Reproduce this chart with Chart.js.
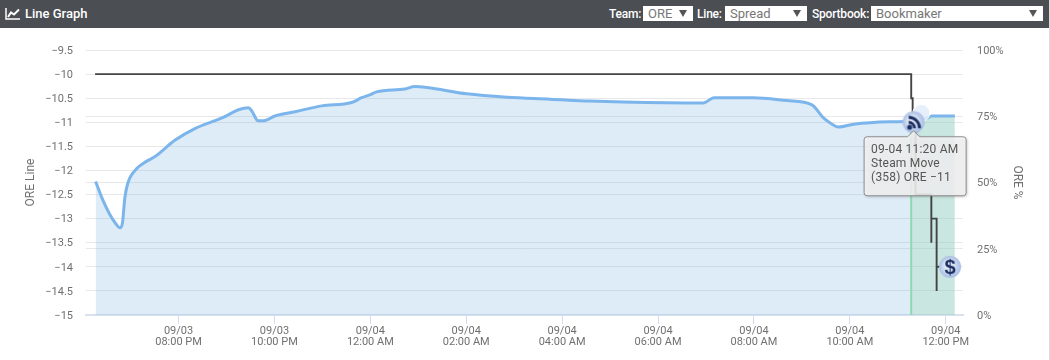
<!DOCTYPE html>
<html lang="en">
<head>
    <meta charset="UTF-8">
    <title>Line Graph</title>
    <style>
        html, body { margin: 0; padding: 0; background: #fff; overflow: hidden; }
        body { width: 1050px; height: 360px; position: relative; font-family: Roboto, sans-serif; }
        #edge { position: absolute; left: 1049px; top: 0; width: 1px; height: 360px; background: #ddd; }
        #header { position: absolute; left: 0; top: 0; width: 1049px; height: 28px; background: #4b4e53; color: #fff; }
        #header svg { position: absolute; left: 5px; top: 7px; }
        #title { position: absolute; left: 25px; top: 6px; font-size: 13px; font-weight: 500; line-height: 16px; }
        #header label { position: absolute; top: 6px; font-size: 12px; font-weight: 500; line-height: 16px; letter-spacing: -0.2px; }
        #header select {
            position: absolute; top: 6px; height: 15px; box-sizing: border-box; margin: 0; padding: 0 0 0 5px;
            border: 0; border-radius: 0; background: #fff; color: #777; font: 13px/15px Roboto, sans-serif;
            appearance: none; -webkit-appearance: none;
            background-image: url("data:image/svg+xml,%3Csvg xmlns='http://www.w3.org/2000/svg' width='8' height='7'%3E%3Cpath d='M0 0H8L4 7Z' fill='%23555'/%3E%3C/svg%3E");
            background-repeat: no-repeat; background-position: right 6px center;
        }
        #myChart { position: absolute; left: 0; top: 28px; }
    </style>
</head>
<body>
    <div id="header">
        <svg width="16" height="14" viewBox="0 0 16 14"><path d="M1 1V12H15" fill="none" stroke="#fff" stroke-width="1.5"/><path d="M3 10L6 5.5L9 7.5L14 2.5" fill="none" stroke="#fff" stroke-width="2"/></svg>
        <span id="title">Line Graph</span>
        <label style="left:609px">Team:</label>
        <select style="left:643px;width:50px"><option>ORE</option></select>
        <label style="left:697px">Line:</label>
        <select style="left:725px;width:82px"><option>Spread</option></select>
        <label style="left:812px">Sportbook:</label>
        <select style="left:871px;width:172px"><option>Bookmaker</option></select>
    </div>
    <canvas id="myChart" width="1049" height="332"></canvas>
    <div id="edge"></div>

    <script src="https://cdn.jsdelivr.net/npm/chart.js"></script>
    <script>
        // x values are hours counted from 09/03 00:00
        const lineHours = [18.27, 18.42, 18.57, 18.68, 18.78, 18.83, 18.88, 18.94, 19.13, 19.27, 19.51, 19.93, 20.34, 20.93, 21.25, 21.46, 21.53, 21.66, 21.77, 22.01, 22.43, 22.99, 23.61, 23.82, 23.99, 24.13, 24.72, 24.93, 25.18, 26.01, 26.85, 27.75, 28.58, 29.27, 30.94, 31.17, 31.98, 32.69, 33.21, 33.45, 33.63, 33.76, 34.08, 34.84, 35.28, 35.33, 35.61, 35.71, 36.19];
        const lineValues = [-12.23, -12.61, -12.92, -13.09, -13.19, -13.09, -12.57, -12.27, -11.96, -11.85, -11.71, -11.37, -11.13, -10.90, -10.74, -10.70, -10.77, -10.97, -10.97, -10.87, -10.78, -10.66, -10.59, -10.49, -10.43, -10.37, -10.31, -10.26, -10.28, -10.41, -10.48, -10.52, -10.56, -10.58, -10.60, -10.49, -10.49, -10.55, -10.64, -10.91, -11.04, -11.10, -11.04, -10.99, -10.98, -10.97, -10.92, -10.87, -10.87];

        const moveHours = [18.26, 35.28, 35.28, 35.31, 35.31, 35.37, 35.37, 35.70, 35.70, 35.70, 35.81, 35.81, 35.81, 36.09];
        const moveValues = [-10, -10, -10.5, -10.5, -11, -11, -12.5, -12.5, -13.5, -13, -13, -14.5, -14, -14];

        const bandStart = 35.28;
        const bandLineValues = [-15, -10.98];
        const steamHour = [35.33];
        const steamValue = [-11];
        const ghostHour = [35.49];
        const ghostValue = [-10.81];
        const betHour = [36.09];
        const betValue = [-14];

        const xTickHours = [20, 22, 24, 26, 28, 30, 32, 34, 36];
        const xTickDates = ['09/03', '09/03', '09/04', '09/04', '09/04', '09/04', '09/04', '09/04', '09/04'];
        const xTickTimes = ['08:00 PM', '10:00 PM', '12:00 AM', '02:00 AM', '04:00 AM', '06:00 AM', '08:00 AM', '10:00 AM', '12:00 PM'];
        const tipLines = ['09-04 11:20 AM', 'Steam Move', '(358) ORE \u221211'];

        const grey = '#707070';
        const tickFont = { family: 'Roboto', size: 11, lineHeight: 1.05 };

        function makeIcon(draw) {
            const c = document.createElement('canvas');
            c.width = 24;
            c.height = 24;
            const g = c.getContext('2d');
            const grad = g.createRadialGradient(10, 10, 2, 12, 12, 11);
            grad.addColorStop(0, '#eef2fa');
            grad.addColorStop(1, '#a8bee3');
            g.fillStyle = grad;
            g.beginPath();
            g.arc(12, 12, 11, 0, Math.PI * 2);
            g.fill();
            draw(g);
            return c;
        }

        const rssIcon = makeIcon(g => {
            g.strokeStyle = g.fillStyle = '#1b2f63';
            g.beginPath();
            g.arc(8, 17, 2.5, 0, Math.PI * 2);
            g.fill();
            g.lineWidth = 2.8;
            [6, 11].forEach(r => {
                g.beginPath();
                g.arc(7, 18, r, -Math.PI / 2, 0);
                g.stroke();
            });
        });

        const dollarIcon = makeIcon(g => {
            g.fillStyle = '#1b2f63';
            g.font = 'bold 20px "Liberation Sans"';
            g.textAlign = 'center';
            g.textBaseline = 'middle';
            g.fillText('$', 12, 13);
        });

        function toPoints(xs, ys) {
            return xs.map((x, i) => ({ x: x, y: ys[i] }));
        }

        // the callout box above the black line, hung under the steam marker
        const calloutPlugin = {
            id: 'callout',
            afterDatasetsDraw(chart) {
                const ctx = chart.ctx;
                const px = chart.scales.x.getPixelForValue(steamHour[0]);
                const py = chart.scales.y.getPixelForValue(steamValue[0]);
                const left = px - 49.5, top = py + 14.5, w = 102, h = 59;
                ctx.save();
                ctx.beginPath();
                ctx.moveTo(left + 3, top);
                ctx.lineTo(px - 6, top);
                ctx.lineTo(px, top - 6);
                ctx.lineTo(px + 6, top);
                ctx.arcTo(left + w, top, left + w, top + h, 3);
                ctx.arcTo(left + w, top + h, left, top + h, 3);
                ctx.arcTo(left, top + h, left, top, 3);
                ctx.arcTo(left, top, left + 3, top, 3);
                ctx.closePath();
                ctx.shadowColor = 'rgba(0,0,0,0.3)';
                ctx.shadowBlur = 3;
                ctx.shadowOffsetX = 1;
                ctx.shadowOffsetY = 1;
                ctx.fillStyle = 'rgba(247,247,247,0.85)';
                ctx.fill();
                ctx.shadowColor = 'transparent';
                ctx.strokeStyle = '#8d8d8d';
                ctx.lineWidth = 1;
                ctx.stroke();
                ctx.fillStyle = '#555';
                ctx.font = '12px Roboto';
                ctx.letterSpacing = '0.2px';
                ctx.textBaseline = 'alphabetic';
                tipLines.forEach((t, i) => ctx.fillText(t, left + 7, top + 16.5 + i * 14));
                ctx.restore();
            }
        };

        new Chart(document.getElementById('myChart'), {
            type: 'line',
            data: {
                datasets: [
                    {
                        data: toPoints(steamHour, steamValue),
                        pointStyle: rssIcon,
                        order: 0,
                        showLine: false,
                        clip: false
                    },
                    {
                        data: toPoints(betHour, betValue),
                        pointStyle: dollarIcon,
                        order: 1,
                        showLine: false,
                        clip: false
                    },
                    {
                        data: toPoints(ghostHour, ghostValue),
                        pointRadius: 8.5,
                        pointBackgroundColor: 'rgba(226,236,249,0.85)',
                        pointBorderColor: 'rgba(255,255,255,0.9)',
                        pointBorderWidth: 1,
                        order: 2,
                        showLine: false,
                        clip: false
                    },
                    {
                        data: toPoints(moveHours, moveValues),
                        borderColor: '#444444',
                        borderWidth: 1.9,
                        pointRadius: 0,
                        tension: 0,
                        order: 3
                    },
                    {
                        data: toPoints(lineHours, lineValues),
                        borderColor: '#7cb5ec',
                        borderWidth: 3,
                        backgroundColor: 'rgba(124,180,228,0.25)',
                        fill: 'start',
                        pointRadius: 0,
                        cubicInterpolationMode: 'monotone',
                        segment: {
                            backgroundColor: c => c.p0.parsed.x >= bandStart ? 'rgba(140,205,190,0.47)' : undefined
                        },
                        order: 4
                    },
                    {
                        data: bandLineValues.map(v => ({ x: bandStart, y: v })),
                        borderColor: '#93e2a5',
                        borderWidth: 2,
                        pointRadius: 0,
                        order: 5
                    }
                ]
            },
            options: {
                responsive: false,
                animation: false,
                layout: { padding: { top: 22 } },
                plugins: { legend: { display: false }, tooltip: { enabled: false } },
                events: [],
                scales: {
                    x: {
                        type: 'linear',
                        min: 18.07,
                        max: 36.36,
                        afterBuildTicks: s => { s.ticks = xTickHours.map(v => ({ value: v })); },
                        afterFit: s => { s.height = 45; },
                        ticks: {
                            autoSkip: false,
                            maxRotation: 0,
                            color: grey,
                            font: tickFont,
                            padding: 1,
                            callback: (v, i) => [xTickDates[i], xTickTimes[i]]
                        },
                        grid: { drawOnChartArea: false, tickLength: 9, color: '#d3dcec' },
                        border: { color: '#d9e0ee', width: 2 }
                    },
                    y: {
                        position: 'left',
                        min: -15,
                        max: -9.5,
                        afterFit: s => { s.width = 86; },
                        ticks: {
                            stepSize: 0.5,
                            color: grey,
                            font: tickFont,
                            padding: 13,
                            labelOffset: 1,
                            callback: v => String(v).replace('-', '\u2212')
                        },
                        grid: { color: '#e8e8e8', drawTicks: false },
                        border: { display: false },
                        title: {
                            display: true,
                            text: 'ORE Line',
                            color: grey,
                            font: { family: 'Roboto', size: 12 },
                            padding: { top: 24, bottom: 0 }
                        }
                    },
                    yPct: {
                        position: 'right',
                        min: 0,
                        max: 100,
                        afterFit: s => { s.width = 86; },
                        ticks: {
                            stepSize: 25,
                            color: grey,
                            font: tickFont,
                            padding: 14,
                            labelOffset: 1,
                            callback: v => v + '%'
                        },
                        grid: { color: '#e8e8e8', drawTicks: false },
                        border: { display: false },
                        title: {
                            display: true,
                            text: 'ORE %',
                            color: grey,
                            font: { family: 'Roboto', size: 12 },
                            padding: { top: 25, bottom: 0 }
                        }
                    }
                }
            },
            plugins: [calloutPlugin]
        });
    </script>
</body>
</html>
